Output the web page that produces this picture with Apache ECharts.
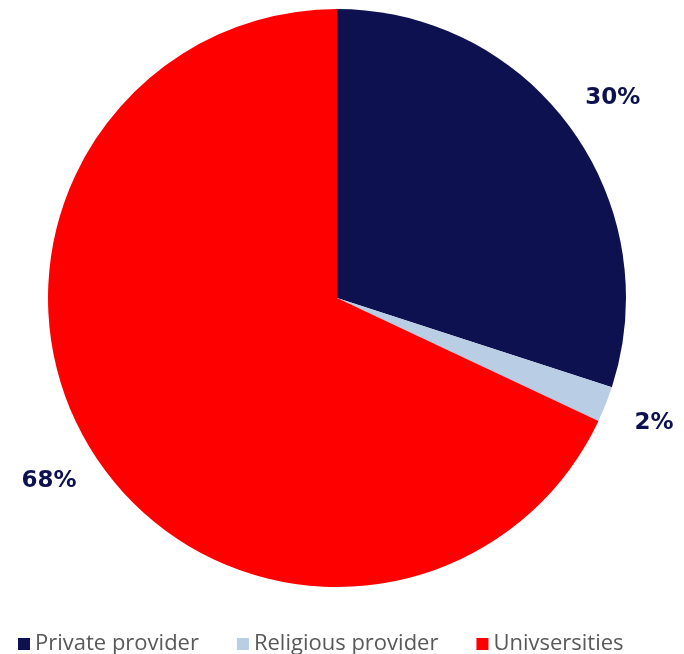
<!DOCTYPE html>
<html>
<head>
<meta charset="utf-8">
<script src="https://cdn.jsdelivr.net/npm/echarts@6/dist/echarts.min.js"></script>
<style>
  html, body { margin: 0; padding: 0; background: #fff; }
  #chart { width: 684px; height: 654px; }
</style>
</head>
<body>
<div id="chart"></div>
<script>
// Provider share of places
const categories = ['Private provider', 'Religious provider', 'Univsersities'];
const shares     = [30, 2, 68];
const colors     = ['#0d1150', '#b9cde5', '#ff0000'];

const data = categories.map((name, i) => ({ name, value: shares[i] }));
const chart = echarts.init(document.getElementById('chart'), null, { renderer: 'canvas' });

chart.setOption({
  animation: false,
  color: colors,
  legend: {
    data: categories,
    top: 628,
    left: 13,
    icon: 'rect',
    itemWidth: 12,
    itemHeight: 12,
    itemGap: 38,
    textStyle: { color: '#595959', fontSize: 22, fontFamily: 'Open Sans', padding: [0, 0, 0, 0] },
  },
  series: [
    {
      type: 'pie',
      center: [337, 298],
      radius: 289,
      startAngle: 90,
      clockwise: true,
      data,
      label: { show: false },
      labelLine: { show: false },
      emphasis: { disabled: true },
    },
    // invisible ring, only used to put the % labels just outside the pie
    {
      type: 'pie',
      center: [337, 298],
      radius: [318, 358],
      startAngle: 90,
      clockwise: true,
      silent: true,
      data,
      itemStyle: { color: 'rgba(0,0,0,0)' },
      label: {
        show: true,
        position: 'inside',
        formatter: p => p.value + '%',
        color: '#0d1150',
        fontSize: 23,
        fontWeight: 'bold',
        fontFamily: 'DejaVu Sans',
      },
      labelLine: { show: false },
      legendHoverLink: false,
      emphasis: { disabled: true },
    },
  ],
});
</script>
</body>
</html>
